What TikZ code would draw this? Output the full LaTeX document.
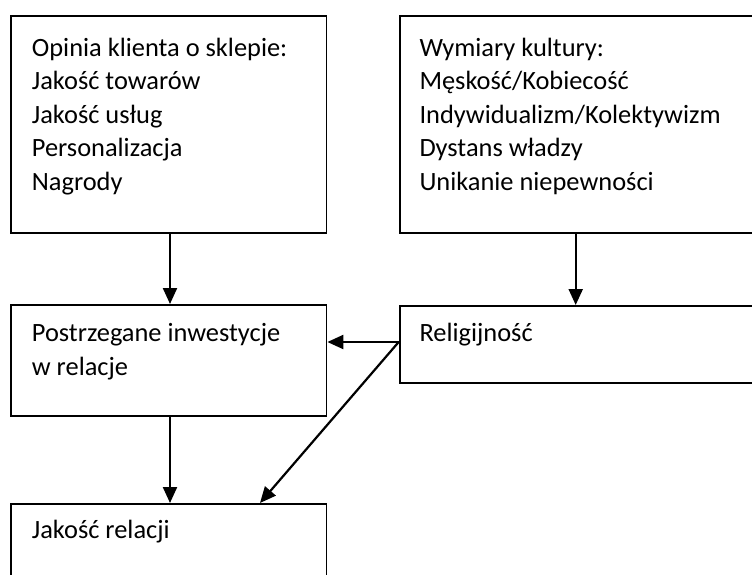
\documentclass[tikz,border=0pt]{standalone}
\usepackage{fontspec}
\setmainfont{Carlito}
\usetikzlibrary{arrows.meta,calc}
\begin{document}
\begin{tikzpicture}[x=1pt,y=-1pt,
  box/.style={draw=black,line width=1.9pt,anchor=north west,inner sep=0pt},
  txt/.style={anchor=base west,inner sep=0pt,font=\fontsize{26.4}{33}\selectfont},
  link/.style={line width=2.2pt,-{Triangle[length=16pt,width=14pt]}}]
\useasboundingbox (0,0) rectangle (752,575);
\clip (0,0) rectangle (752,575);

% boxes
\node[box,minimum width=315.5pt,minimum height=216.5pt] (b1) at (10,15.5) {};
\node[box,minimum width=370pt,minimum height=216.5pt] (b2) at (398.7,15.5) {};
\node[box,minimum width=315.5pt,minimum height=111pt] (b3) at (10,304) {};
\node[box,minimum width=370pt,minimum height=77pt] (b4) at (398.7,305) {};
\node[box,minimum width=315.5pt,minimum height=90pt] (b5) at (10,503) {};

% texts of the upper left box
\foreach \t [count=\i from 0] in {Opinia klienta o sklepie:,Jakość towarów,Jakość usług,Personalizacja,Nagrody}
  \node[txt] (s\i) at (31.7,56.5+33.5*\i) {\t};

% texts of the upper right box
\foreach \t [count=\i from 0] in {Wymiary kultury:,Męskość/Kobiecość,Indywidualizm/Kolektywizm,Dystans władzy,Unikanie niepewności}
  \node[txt] (k\i) at (419.3,56.5+33.5*\i) {\t};

\node[txt] (p0) at (31.7,341) {Postrzegane inwestycje};
\node[txt] (p1) at (31.7,375) {w relacje};
\node[txt] (rl) at (419.3,341) {Religijność};
\node[txt] (jr) at (31.7,538) {Jakość relacji};

% connectors
\draw[link] ($(b1.south west)+(160,0)$) -- ($(b3.north west)+(160,0)$);
\draw[link] ($(b2.south west)+(177,0)$) -- ($(b4.north west)+(177,0)$);
\coordinate (r) at ($(b4.north west)+(0,37)$);
\draw[link] (r) -- (r -| b3.east);
\draw[link] (r) -- ($(b5.north west)+(250,0)$);
\draw[link] ($(b3.south west)+(160,0)$) -- ($(b5.north west)+(160,0)$);
\end{tikzpicture}
\end{document}
